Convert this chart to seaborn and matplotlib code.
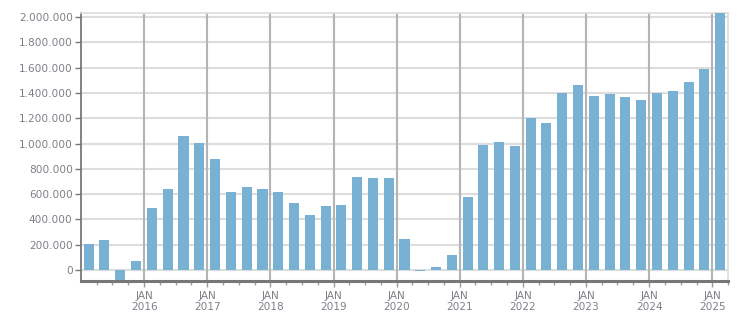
import matplotlib
matplotlib.use("Agg")
import matplotlib.pyplot as plt
import matplotlib.dates as mdates
import matplotlib.ticker as mticker
import numpy as np
import pandas as pd
import seaborn as sns
import datetime as dt

# Quarterly data, Q1 2015 .. Q1 2025
quarters = pd.period_range("2015Q1", "2025Q1", freq="Q")
values = [206000, 238000, -80000, 71000,
          491000, 642000, 1061000, 1006000,
          879000, 618000, 657000, 642000,
          618000, 531000, 436000, 507000,
          515000, 737000, 729000, 729000,
          246000, -8000, 24000, 119000,
          578000, 990000, 1014000, 982000,
          1204000, 1164000, 1402000, 1465000,
          1378000, 1394000, 1370000, 1347000,
          1402000, 1418000, 1489000, 1592000,
          2040000]
year_ticks = list(range(2016, 2026))

starts = quarters.start_time
ends = (quarters + 1).start_time
mids = starts + (ends - starts) / 2
xnum = mdates.date2num(mids.to_pydatetime())

df = pd.DataFrame({"x": xnum, "value": values})

sns.set_theme(style="white")
plt.rcParams['font.family'] = ['DejaVu Sans']

fig = plt.figure(figsize=(7.51, 3.13), dpi=100)
ax = fig.add_axes([81/751, 1-281/313, (728-81)/751, (281-13)/313])

sns.barplot(data=df, x="x", y="value", native_scale=True, width=0.64,
            color="#78b1d3", saturation=1, edgecolor="none", linewidth=0,
            ax=ax, zorder=3)

ax.set_xlim(mdates.date2num(dt.datetime(2015, 1, 1)),
            mdates.date2num(dt.datetime(2025, 4, 1)))
ax.set_ylim(-87000, 2032000)

# y axis
ax.yaxis.set_major_locator(mticker.MultipleLocator(200000))
ax.yaxis.set_major_formatter(mticker.FuncFormatter(lambda v, p: f"{int(round(v)):,}".replace(",", ".")))
ax.grid(axis="y", color="#dddddd", linewidth=1.5, zorder=0)
ax.set_axisbelow(True)

# x axis
major = [mdates.date2num(dt.datetime(y, 1, 1)) for y in year_ticks]
ax.set_xticks(major)
ax.set_xticklabels([f"JAN\n{y}" for y in year_ticks])
ax.xaxis.set_minor_locator(mdates.MonthLocator(bymonth=[4, 7, 10]))
for m in major:
    ax.axvline(m, color="#b4b4b4", linewidth=1.5, zorder=1)

ax.set_xlabel("")
ax.set_ylabel("")

ax.tick_params(axis="y", which="major", length=4, width=1, color="#777777",
               labelsize=7.6, labelcolor="#7f7f88", pad=2, left=True)
ax.tick_params(axis="x", which="major", length=4, width=1, color="#999999",
               labelsize=7.6, labelcolor="#7f7f88", pad=3, bottom=True)
ax.tick_params(axis="x", which="minor", length=3, width=1, color="#999999", bottom=True)

for s in ["top", "right"]:
    ax.spines[s].set_color("#dddddd")
    ax.spines[s].set_linewidth(1.2)
ax.spines["left"].set_color("#777777")
ax.spines["left"].set_linewidth(1.3)
ax.spines["bottom"].set_color("#777777")
ax.spines["bottom"].set_linewidth(2.2)

fig.savefig("out.png", dpi=100)
